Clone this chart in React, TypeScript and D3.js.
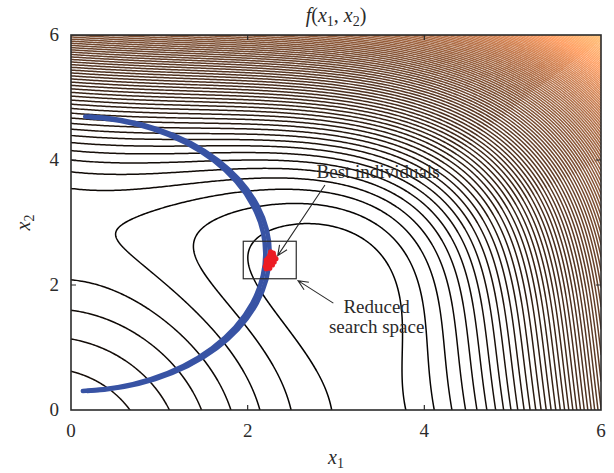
import React from "react";
import * as d3 from "d3";

// objective shown by the contours: f(x1, x2) (Himmelblau)
const objective = (x1: number, x2: number) =>
  (x1 * x1 + x2 - 11) ** 2 + (x1 + x2 * x2 - 7) ** 2;

// -- DATA --
const xTicks = [0, 2, 4, 6];
const yTicks = [0, 2, 4, 6];
const domainMax = 6;
const levelCount = 100;
const gridSize = 301;

// feasible band: two circles [cx, cy, r], drawn between these angles (deg)
const circleCx = [0, 0.05];
const circleCy = [2.5, 2.5];
const circleR = [2.2, 2.2];
const arcStartDeg = -86.5;
const arcEndDeg = 85.8;

// best individuals of the population
const bestX1 = [2.26, 2.29, 2.25, 2.3, 2.23, 2.28, 2.32, 2.21, 2.25, 2.3, 2.21, 2.24, 2.28, 2.2, 2.23, 2.21, 2.25];
const bestX2 = [2.53, 2.51, 2.48, 2.46, 2.43, 2.43, 2.42, 2.4, 2.38, 2.37, 2.35, 2.34, 2.32, 2.3, 2.29, 2.26, 2.27];

// reduced search space box [x1min, x2min, x1max, x2max]
const searchBox = [1.95, 2.1, 2.55, 2.7];

const copper = (t: number) =>
  d3.rgb(255 * Math.min(1, 1.25 * t), 255 * 0.7812 * t, 255 * 0.4975 * t).toString();

const App = () => {
  const svgRef = React.useRef<SVGSVGElement>(null);
  const width = 614;
  const height = 473;
  const plot = { left: 71, right: 601, top: 35, bottom: 410 };

  React.useEffect(() => {
    const svg = d3.select(svgRef.current);
    svg.selectAll("*").remove();

    const x = d3.scaleLinear().domain([0, domainMax]).range([plot.left, plot.right]);
    const y = d3.scaleLinear().domain([0, domainMax]).range([plot.bottom, plot.top]);
    const ink = "#2b2b2b";
    const font = "'Liberation Serif', 'DejaVu Serif', serif";

    // grid of f values
    const step = domainMax / (gridSize - 1);
    const values = new Float64Array(gridSize * gridSize);
    for (let j = 0; j < gridSize; j++)
      for (let i = 0; i < gridSize; i++)
        values[j * gridSize + i] = objective(i * step, j * step);
    const zMax = d3.max(values) as number;
    const thresholds = d3.range(1, levelCount + 1).map((k) => (k * zMax) / (levelCount + 1));

    const contours = d3.contours().size([gridSize, gridSize]).thresholds(thresholds)(values as any);

    // grid coords -> pixels (sample i sits at i + 0.5)
    const project = d3.geoTransform({
      point(gx: number, gy: number) {
        this.stream.point(x((gx - 0.5) * step), y((gy - 0.5) * step));
      },
    });
    const path = d3.geoPath(project);

    svg
      .append("defs")
      .append("clipPath")
      .attr("id", "plotClip")
      .append("rect")
      .attr("x", plot.left)
      .attr("y", plot.top)
      .attr("width", plot.right - plot.left)
      .attr("height", plot.bottom - plot.top);

    svg
      .append("g")
      .attr("clip-path", "url(#plotClip)")
      .selectAll("path")
      .data(contours)
      .enter()
      .append("path")
      .attr("d", (d) => path(d as any))
      .attr("fill", "none")
      .attr("stroke", (d) => copper(d.value / zMax))
      .attr("stroke-width", 1.5);

    // frame + inward ticks
    svg
      .append("rect")
      .attr("x", plot.left)
      .attr("y", plot.top)
      .attr("width", plot.right - plot.left)
      .attr("height", plot.bottom - plot.top)
      .attr("fill", "none")
      .attr("stroke", ink)
      .attr("stroke-width", 1.6);

    const tickLen = 5;
    svg
      .selectAll("xTicks")
      .data(xTicks.filter((t) => t > 0 && t < domainMax))
      .enter()
      .append("path")
      .attr("d", (t) => `M${x(t)},${plot.bottom}v${-tickLen}M${x(t)},${plot.top}v${tickLen}`)
      .attr("stroke", ink)
      .attr("stroke-width", 1.2);
    svg
      .selectAll("yTicks")
      .data(yTicks.filter((t) => t > 0 && t < domainMax))
      .enter()
      .append("path")
      .attr("d", (t) => `M${plot.left},${y(t)}h${tickLen}M${plot.right},${y(t)}h${-tickLen}`)
      .attr("stroke", ink)
      .attr("stroke-width", 1.2);

    svg
      .selectAll("xLabels")
      .data(xTicks)
      .enter()
      .append("text")
      .attr("x", (t) => x(t))
      .attr("y", plot.bottom + 27)
      .attr("text-anchor", "middle")
      .style("font-family", font)
      .style("font-size", "19px")
      .style("fill", ink)
      .text((t) => t);
    svg
      .selectAll("yLabels")
      .data(yTicks)
      .enter()
      .append("text")
      .attr("x", plot.left - 12)
      .attr("y", (t) => y(t) + 6)
      .attr("text-anchor", "end")
      .style("font-family", font)
      .style("font-size", "19px")
      .style("fill", ink)
      .text((t) => t);

    // feasible band: two thick circle arcs drawn in data space
    const band = svg
      .append("g")
      .attr("clip-path", "url(#plotClip)")
      .append("g")
      .attr("transform", `translate(${x(0)},${y(0)}) scale(${x(1) - x(0)},${y(1) - y(0)})`);
    circleCx.forEach((cx, i) => {
      const p = d3.path();
      const a0 = (arcStartDeg * Math.PI) / 180;
      const a1 = (arcEndDeg * Math.PI) / 180;
      p.moveTo(cx + circleR[i] * Math.cos(a0), circleCy[i] + circleR[i] * Math.sin(a0));
      p.arc(cx, circleCy[i], circleR[i], a0, a1, false);
      band
        .append("path")
        .attr("d", p.toString())
        .attr("fill", "none")
        .attr("stroke", "#3853a4")
        .attr("stroke-width", 4.6)
        .attr("stroke-linecap", "round")
        .attr("vector-effect", "non-scaling-stroke");
    });

    // best individuals
    svg
      .selectAll("best")
      .data(bestX1.map((v, i) => [v, bestX2[i]]))
      .enter()
      .append("circle")
      .attr("cx", (d) => x(d[0]))
      .attr("cy", (d) => y(d[1]))
      .attr("r", 2.6)
      .style("fill", "#ec1c24");

    // reduced search space
    svg
      .append("rect")
      .attr("x", x(searchBox[0]))
      .attr("y", y(searchBox[3]))
      .attr("width", x(searchBox[2]) - x(searchBox[0]))
      .attr("height", y(searchBox[1]) - y(searchBox[3]))
      .attr("fill", "none")
      .attr("stroke", ink)
      .attr("stroke-width", 1.2);

    // annotation arrows (open heads)
    const arrow = (from: number[], to: number[]) => {
      const x0 = x(from[0]), y0 = y(from[1]), x1 = x(to[0]), y1 = y(to[1]);
      const ang = Math.atan2(y1 - y0, x1 - x0);
      const len = 11, spread = 0.42;
      const b1 = [x1 - len * Math.cos(ang - spread), y1 - len * Math.sin(ang - spread)];
      const b2 = [x1 - len * Math.cos(ang + spread), y1 - len * Math.sin(ang + spread)];
      svg
        .append("path")
        .attr("d", `M${x0},${y0}L${x1},${y1}M${b1[0]},${b1[1]}L${x1},${y1}L${b2[0]},${b2[1]}`)
        .attr("fill", "none")
        .attr("stroke", ink)
        .attr("stroke-width", 1.1);
    };
    arrow([2.875, 3.6], [2.34, 2.47]);
    arrow([2.97, 1.71], [2.57, 2.07]);

    const note = (tx: number, ty: number, anchor: string, s: string) =>
      svg
        .append("text")
        .attr("x", x(tx))
        .attr("y", y(ty))
        .attr("text-anchor", anchor)
        .style("font-family", font)
        .style("font-size", "19px")
        .style("fill", ink)
        .text(s);
    note(2.78, 3.71, "start", "Best individuals");
    note(3.46, 1.55, "middle", "Reduced");
    note(3.46, 1.23, "middle", "search space");

    // title and axis labels (subscripts via dy shifts)
    const label = (tx: number, ty: number, rotate: boolean, parts: [string, string, number][]) => {
      const t = svg
        .append("text")
        .attr("transform", `translate(${tx},${ty})${rotate ? " rotate(-90)" : ""}`)
        .attr("text-anchor", "middle")
        .style("font-family", font)
        .style("font-size", "20px")
        .style("fill", ink);
      parts.forEach(([s, kind, dy]) => {
        const sp = t.append("tspan").attr("dy", dy).text(s);
        if (kind === "i") sp.style("font-style", "italic");
        if (kind === "sub") sp.style("font-size", "14px");
      });
    };
    label((plot.left + plot.right) / 2, 22, false, [
      ["f", "i", 0],
      ["(", "n", 0],
      ["x", "i", 0],
      ["1", "sub", 4],
      [", ", "n", -4],
      ["x", "i", 0],
      ["2", "sub", 4],
      [")", "n", -4],
    ]);
    label((plot.left + plot.right) / 2, 464, false, [
      ["x", "i", 0],
      ["1", "sub", 4],
    ]);
    label(30, (plot.top + plot.bottom) / 2, true, [
      ["x", "i", 0],
      ["2", "sub", 4],
    ]);
  }, []);

  return (
    <svg
      ref={svgRef}
      width={width}
      height={height}
      style={{ position: "absolute", left: 0, top: 0, background: "#fff" }}
    />
  );
};

export default App;
